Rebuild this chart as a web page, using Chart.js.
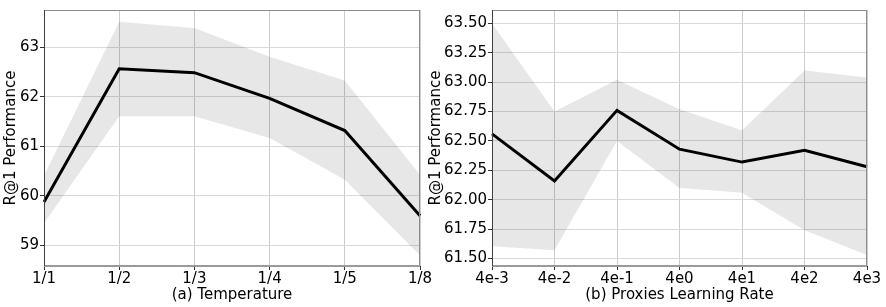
<!DOCTYPE html>
<html><head><meta charset="utf-8">
<script src="https://cdn.jsdelivr.net/npm/chart.js@4/dist/chart.umd.min.js"></script>
<style>
html,body{margin:0;padding:0;background:#fff;}
#wrap{position:relative;width:886px;height:307px;}
canvas{position:absolute;top:0;}
</style></head><body>
<div id="wrap">
<canvas id="c1" width="443" height="307" style="left:0;width:443px;height:307px"></canvas>
<canvas id="c2" width="461" height="307" style="left:425px;width:461px;height:307px"></canvas>
</div>
<script>
const tempLabels = ['1/1','1/2','1/3','1/4','1/5','1/8'];
const tempMean  = [59.88, 62.57, 62.49, 61.97, 61.32, 59.60];
const tempUpper = [60.41, 63.52, 63.39, 62.81, 62.33, 60.43];
const tempLower = [59.45, 61.61, 61.61, 61.17, 60.33, 58.80];

const lrLabels = ['4e-3','4e-2','4e-1','4e0','4e1','4e2','4e3'];
const lrMean  = [62.56, 62.16, 62.76, 62.43, 62.32, 62.42, 62.28];
const lrUpper = [63.50, 62.75, 63.02, 62.77, 62.59, 63.10, 63.04];
const lrLower = [61.605, 61.57, 62.50, 62.10, 62.06, 61.74, 61.53];

const FONT = 'DejaVu Sans';
Chart.defaults.font.family = FONT;
Chart.defaults.color = '#000';

const framePlugin = {
  id: 'frame',
  afterDraw(chart) {
    const {ctx, chartArea: a} = chart;
    ctx.save();
    ctx.strokeStyle = '#8c8c8c';
    ctx.lineWidth = 1;
    ctx.beginPath();
    ctx.moveTo(a.left, a.top + 0.5); ctx.lineTo(a.right, a.top + 0.5);
    ctx.moveTo(a.right - 0.5, a.top); ctx.lineTo(a.right - 0.5, a.bottom);
    ctx.stroke();
    ctx.strokeStyle = '#9a9a9a';
    ctx.lineWidth = 2;
    ctx.beginPath();
    ctx.moveTo(a.left, a.bottom); ctx.lineTo(a.right, a.bottom);
    ctx.stroke();
    ctx.strokeStyle = '#404040';
    ctx.lineWidth = 1;
    ctx.beginPath();
    ctx.moveTo(a.left + 0.5, a.top); ctx.lineTo(a.left + 0.5, a.bottom);
    ctx.stroke();
    ctx.restore();
  }
};

function makeChart(id, labels, mean, upper, lower, yMin, yMax, step, dec, xTitle, yWidth, padRight, yTitlePad) {
  return new Chart(document.getElementById(id), {
    type: 'line',
    data: {
      labels,
      datasets: [
        {data: upper, borderWidth: 0, pointRadius: 0, fill: '+1', backgroundColor: 'rgba(0,0,0,0.095)', tension: 0},
        {data: lower, borderWidth: 0, pointRadius: 0, fill: false, tension: 0},
        {data: mean, borderColor: '#000', borderWidth: 3, pointRadius: 0, fill: false, tension: 0}
      ]
    },
    options: {
      responsive: false, animation: false,
      layout: {padding: {left: 0, right: padRight, top: 4, bottom: 0}},
      plugins: {legend: {display: false}, tooltip: {enabled: false}},
      scales: {
        x: {
          type: 'category', offset: false,
          grid: {color: '#cccccc', lineWidth: 1, drawTicks: true, tickLength: 4, tickColor: '#333'},
          border: {display: false},
          ticks: {font: {size: 15}, color: '#000', padding: 0, maxRotation: 0, autoSkip: false},
          title: {display: true, text: xTitle, font: {size: 15}, color: '#000', padding: {top: 0, bottom: 3}},
          afterFit(s) { s.height = 41; }
        },
        y: {
          min: yMin, max: yMax,
          grid: {color: '#d9d9d9', lineWidth: 1, drawTicks: true, tickLength: 4, tickColor: '#333'},
          border: {display: false},
          ticks: {stepSize: step, includeBounds: false, font: {size: 15}, color: '#000', padding: 1,
                  callback: v => v.toFixed(dec)},
          title: {display: true, text: 'R@1 Performance', font: {size: 15}, color: '#000', padding: {top: yTitlePad, bottom: 0}},
          afterFit(s) { s.width = yWidth; }
        }
      }
    },
    plugins: [framePlugin]
  });
}

makeChart('c1', tempLabels, tempMean, tempUpper, tempLower, 58.586, 63.755, 1, 0, '(a) Temperature', 44, 23, 2);
makeChart('c2', lrLabels, lrMean, lrUpper, lrLower, 61.436, 63.614, 0.25, 2, '(b) Proxies Learning Rate', 67, 19, 2);
</script>
</body></html>
